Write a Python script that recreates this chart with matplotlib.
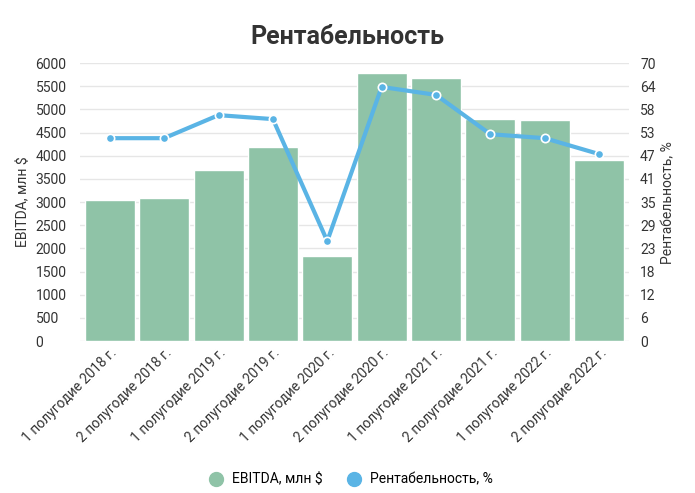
import matplotlib.pyplot as plt
import numpy as np
from matplotlib.lines import Line2D

categories = [
    "1 полугодие 2018 г.", "2 полугодие 2018 г.", "1 полугодие 2019 г.",
    "2 полугодие 2019 г.", "1 полугодие 2020 г.", "2 полугодие 2020 г.",
    "1 полугодие 2021 г.", "2 полугодие 2021 г.", "1 полугодие 2022 г.",
    "2 полугодие 2022 г.",
]
ebitda = [3050, 3080, 3700, 4180, 1830, 5780, 5680, 4800, 4780, 3900]
margin = [51.1, 51.1, 56.9, 55.9, 25.2, 64.0, 62.0, 52.1, 51.1, 47.1]
left_ticks = list(range(0, 6001, 500))
right_labels = ["0", "6", "12", "18", "23", "29", "35", "41", "47", "53", "58", "64", "70"]

plt.rcParams["font.family"] = "Roboto"
fig = plt.figure(figsize=(6.95, 4.93), dpi=100)
ax = fig.add_axes([0.115, 0.308, 0.79, 0.564])
x = np.arange(len(categories))
ax.bar(x, ebitda, width=0.92, color="#8fc3a7", edgecolor="white", linewidth=1,
       label="EBITDA, млн $", zorder=2)
ax.set_ylim(0, 6000)
ax.set_xlim(-0.55, len(categories) - 0.45)
ax.set_yticks(left_ticks)
ax.set_yticklabels([str(t) for t in left_ticks], ha="left")
ax.tick_params(axis="y", pad=32, length=0, labelsize=10, colors="#333333")
ax.tick_params(axis="x", length=0, labelsize=10, colors="#333333")
ax.set_xticks(x)
ax.set_xticklabels(categories, rotation=45, ha="right", rotation_mode="anchor")
ax.grid(axis="y", color="#e6e6e6", linewidth=1, zorder=0)
for s in ax.spines.values():
    s.set_visible(False)
ax.set_ylabel("EBITDA, млн $", fontsize=10, color="#333333")

ax2 = ax.twinx()
ax2.plot(x, margin, color="#5ab4e5", linewidth=3, marker="o", markersize=6,
         markerfacecolor="#5ab4e5", markeredgecolor="white", markeredgewidth=1.2,
         label="Рентабельность, %", zorder=3)
ax2.set_ylim(0, 70)
ax2.set_yticks(np.linspace(0, 70, 13))
ax2.set_yticklabels(right_labels)
ax2.tick_params(axis="y", length=0, labelsize=10, colors="#333333", pad=8)
for s in ax2.spines.values():
    s.set_visible(False)
ax2.set_ylabel("Рентабельность, %", fontsize=10, color="#333333")

fig.suptitle("Рентабельность", fontsize=18, fontweight="bold", color="#333333", y=0.95)
labels = ["EBITDA, млн $", "Рентабельность, %"]
handles = [Line2D([], [], marker="o", linestyle="", markersize=10, color="#8fc3a7"),
           Line2D([], [], marker="o", linestyle="", markersize=10, color="#5ab4e5")]
fig.legend(handles, labels, loc="lower center", ncol=2, frameon=False,
           fontsize=10, bbox_to_anchor=(0.5, -0.012), handletextpad=0.2, columnspacing=1.2)
fig.savefig("out.png", dpi=100)
